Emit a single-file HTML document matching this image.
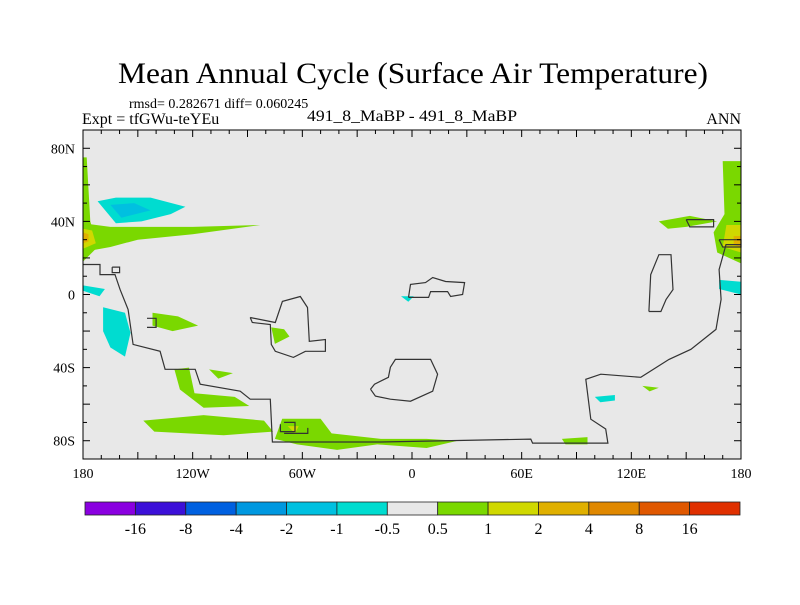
<!DOCTYPE html>
<html><head><meta charset="utf-8"><style>
body{margin:0;background:#fff}
svg text{font-family:"Liberation Serif",serif;fill:#000}
</style></head><body>
<svg width="800" height="600" viewBox="0 0 800 600" id="svg">
<text x="118" y="83" font-size="30" textLength="590" lengthAdjust="spacingAndGlyphs">Mean Annual Cycle (Surface Air Temperature)</text>
<text x="129" y="108" font-size="14">rmsd= 0.282671 diff= 0.060245</text>
<text x="82" y="124" font-size="16">Expt = tfGWu-teYEu</text>
<text x="307" y="121" font-size="16" textLength="210" lengthAdjust="spacingAndGlyphs">491_8_MaBP - 491_8_MaBP</text>
<text x="741" y="124" font-size="16" text-anchor="end">ANN</text>
<g id="plot"></g>
<g id="cbar"></g>
</svg>
<script>
const cbLabels=["-16","-8","-4","-2","-1","-0.5","0.5","1","2","4","8","16"];
const cbColors=["#8a00e0","#3c10d8","#0060e0","#0098e0","#00c0e0","#00dcd0","#e8e8e8","#7ad800","#d0d800","#e0b000","#e08800","#e05800","#e03000"];
const lonTicks=[-180,-120,-60,0,60,120,180];
const lonTickLabels=["180","120W","60W","0","60E","120E","180"];
const latTicks=[80,40,0,-40,-80];
const latTickLabels=["80N","40N","0","40S","80S"];
// filled anomaly regions: [colorIndex, [[lon,lat],...]]
const fills=[
[7,[[-180,75],[-178,75],[-176,40],[-172,26],[-180,18]]],
[5,[[-172,51],[-162,53],[-143,53],[-124,48],[-132,44],[-148,40],[-162,39]]],
[4,[[-165,49],[-152,50],[-143,46],[-159,42]]],
[7,[[-180,39],[-165,37],[-120,37],[-83,38],[-120,33],[-150,30],[-165,26],[-176,24]]],
[8,[[-180,36],[-175,35],[-173,28],[-180,25]]],
[9,[[-180,34],[-177,33],[-177,29],[-180,28]]],
[7,[[170,73],[180,73],[180,17],[167,23],[165,34],[171,44]]],
[7,[[135,40],[152,43],[167,40],[150,37],[140,36]]],
[8,[[172,38],[180,38],[180,23],[170,26]]],
[9,[[176,32],[180,32],[180,26],[176,27]]],
[5,[[168,8],[180,7],[180,0],[168,3]]],
[5,[[-180,5],[-168,3],[-171,-1],[-180,2]]],
[5,[[-169,-7],[-157,-10],[-154,-21],[-157,-34],[-165,-29],[-169,-20]]],
[7,[[-142,-10],[-128,-12],[-117,-17],[-131,-20],[-142,-17]]],
[7,[[-77,-18],[-70,-19],[-67,-23],[-75,-27]]],
[7,[[-130,-41],[-122,-40],[-119,-54],[-97,-56],[-89,-61],[-114,-62],[-127,-52]]],
[7,[[-111,-41],[-98,-43],[-106,-46]]],
[7,[[-147,-69],[-114,-66],[-81,-69],[-76,-75],[-103,-77],[-141,-75]]],
[7,[[-71,-68],[-50,-68],[-44,-76],[-17,-79],[8,-79],[25,-80],[8,-84],[-19,-82],[-41,-85],[-63,-82],[-75,-79]]],
[8,[[-68,-72],[-62,-72],[-64,-76]]],
[7,[[82,-79],[96,-78],[96,-82],[84,-82]]],
[5,[[-6,-1],[1,-1],[-2,-4]]],
[5,[[100,-56],[111,-55],[111,-58],[103,-59]]],
[7,[[126,-50],[135,-51],[130,-53]]]
];
// coastline outlines
const coasts=[
[[-180,16.4],[-170.7,16.4],[-170.7,10.9],[-162.5,10.9],[-159.7,2.7],[-155.3,-8.2],[-152.6,-27.3],[-137.8,-31.1],[-135.1,-40.9],[-118.6,-40.9],[-115.9,-49.1],[-94,-52.9],[-88.5,-57.3],[-77.5,-57.3],[-76.4,-80.7],[-17.2,-80.7],[65,-79.1],[66,-81.3],[107.2,-81.3],[106,-73.6],[97.8,-68.2],[95.1,-46.4],[103.3,-43.6],[125.2,-45.3],[140.6,-35.5],[152.6,-30],[166.3,-19.1],[169.1,-2.7],[168,13.6],[171.8,27.3],[180,27.3]],
[[-88.5,-12.6],[-74.8,-15.3],[-70.9,-3.8],[-61.1,-1.1],[-57.2,-7.1],[-56.2,-25.6],[-47.4,-24.6],[-47.4,-31.1],[-58.3,-31.1],[-64.9,-34.4],[-74.8,-31.1],[-77,-27.3],[-77.5,-16.4],[-87.4,-15.3],[-88.5,-12.6]],
[[-22.7,-51.8],[-20.5,-49.1],[-12.9,-45.3],[-11.8,-39.8],[-9.1,-35.5],[10.2,-35.5],[14,-43.6],[11.3,-52.9],[-0.8,-58.4],[-11.8,-57.3],[-20,-55.6],[-22.7,-51.8]],
[[-1.9,-1.6],[-0.8,5.5],[7.4,6.5],[11.3,9.3],[18.4,7.1],[28.8,6.5],[27.7,0],[21.1,-1.1],[19.5,1.6],[10.2,1.6],[9.1,-1.6],[-1.9,-1.6]],
[[129.6,-9.3],[130.6,10.9],[135.1,21.8],[141.7,21.8],[142.8,2.7],[139,-2.7],[136.2,-9.3],[129.6,-9.3]],
[[150,41],[165,41],[165,37],[152,37],[150,41]],
[[168,30],[180,30],[180,26],[170,26],[168,30]],
[[-164,15],[-160,15],[-160,12],[-164,12],[-164,15]],
[[-145,-13],[-140,-13],[-140,-18],[-145,-18]],
[[-70,-70],[-64,-70],[-64,-75],[-72,-75],[-72,-71]],
[[-57,-73],[-57,-76],[-70,-76]]
];
const X0=83,X1=741,Y0=130,Y1=459;
const sx=lon=>X0+(lon+180)/360*(X1-X0);
const sy=lat=>Y0+(90-lat)/180*(Y1-Y0);
const NS="http://www.w3.org/2000/svg";
function mk(tag,attrs,parent){const e=document.createElementNS(NS,tag);for(const k in attrs)e.setAttribute(k,attrs[k]);parent.appendChild(e);return e;}
const plot=document.getElementById('plot');
const bg=mk('rect',{x:X0,y:Y0,width:X1-X0,height:Y1-Y0,fill:'#e8e8e8'},plot);


fills.forEach((f,i)=>{
 const p=mk('polygon',{points:f[1].map(q=>sx(q[0]).toFixed(1)+','+sy(q[1]).toFixed(1)).join(' '),fill:cbColors[f[0]]},plot);
 
 
});
coasts.forEach(c=>{
 const p=mk('polyline',{points:c.map(q=>sx(q[0]).toFixed(1)+','+sy(q[1]).toFixed(1)).join(' '),fill:'none',stroke:'#333',"stroke-width":1.2},plot);
 
 
});
const fr=mk('rect',{x:X0,y:Y0,width:X1-X0,height:Y1-Y0,fill:'none',stroke:'#000',"stroke-width":1},plot);


for(let lon=-180;lon<=180;lon+=10){const L=lon%30===0?7:4;
 mk('line',{x1:sx(lon),x2:sx(lon),y1:Y1,y2:Y1-L,stroke:'#000'},plot);
 mk('line',{x1:sx(lon),x2:sx(lon),y1:Y0,y2:Y0+L,stroke:'#000'},plot);}
for(let lat=-90;lat<=90;lat+=10){const L=lat%20===0?7:4;
 mk('line',{x1:X0,x2:X0+L,y1:sy(lat),y2:sy(lat),stroke:'#000'},plot);
 mk('line',{x1:X1,x2:X1-L,y1:sy(lat),y2:sy(lat),stroke:'#000'},plot);}
lonTicks.forEach((v,i)=>{const t=mk('text',{x:sx(v),y:Y1+19,"font-size":14,"text-anchor":"middle"},plot);t.textContent=lonTickLabels[i];
 
 });
latTicks.forEach((v,i)=>{const t=mk('text',{x:X0-8,y:sy(v)+5,"font-size":14,"text-anchor":"end"},plot);t.textContent=latTickLabels[i];
 
 });
const cb=document.getElementById('cbar');
const CX0=85,CX1=740,CY=502,CH=13,bw=(CX1-CX0)/cbColors.length;
cbColors.forEach((c,i)=>{const r=mk('rect',{x:CX0+i*bw,y:CY,width:bw,height:CH,fill:c,stroke:'#222',"stroke-width":0.8},cb);
 
 });
cbLabels.forEach((l,i)=>{const t=mk('text',{x:CX0+(i+1)*bw,y:CY+CH+19,"font-size":16,"text-anchor":"middle"},cb);t.textContent=l;
 
 });
</script>
</body></html>
